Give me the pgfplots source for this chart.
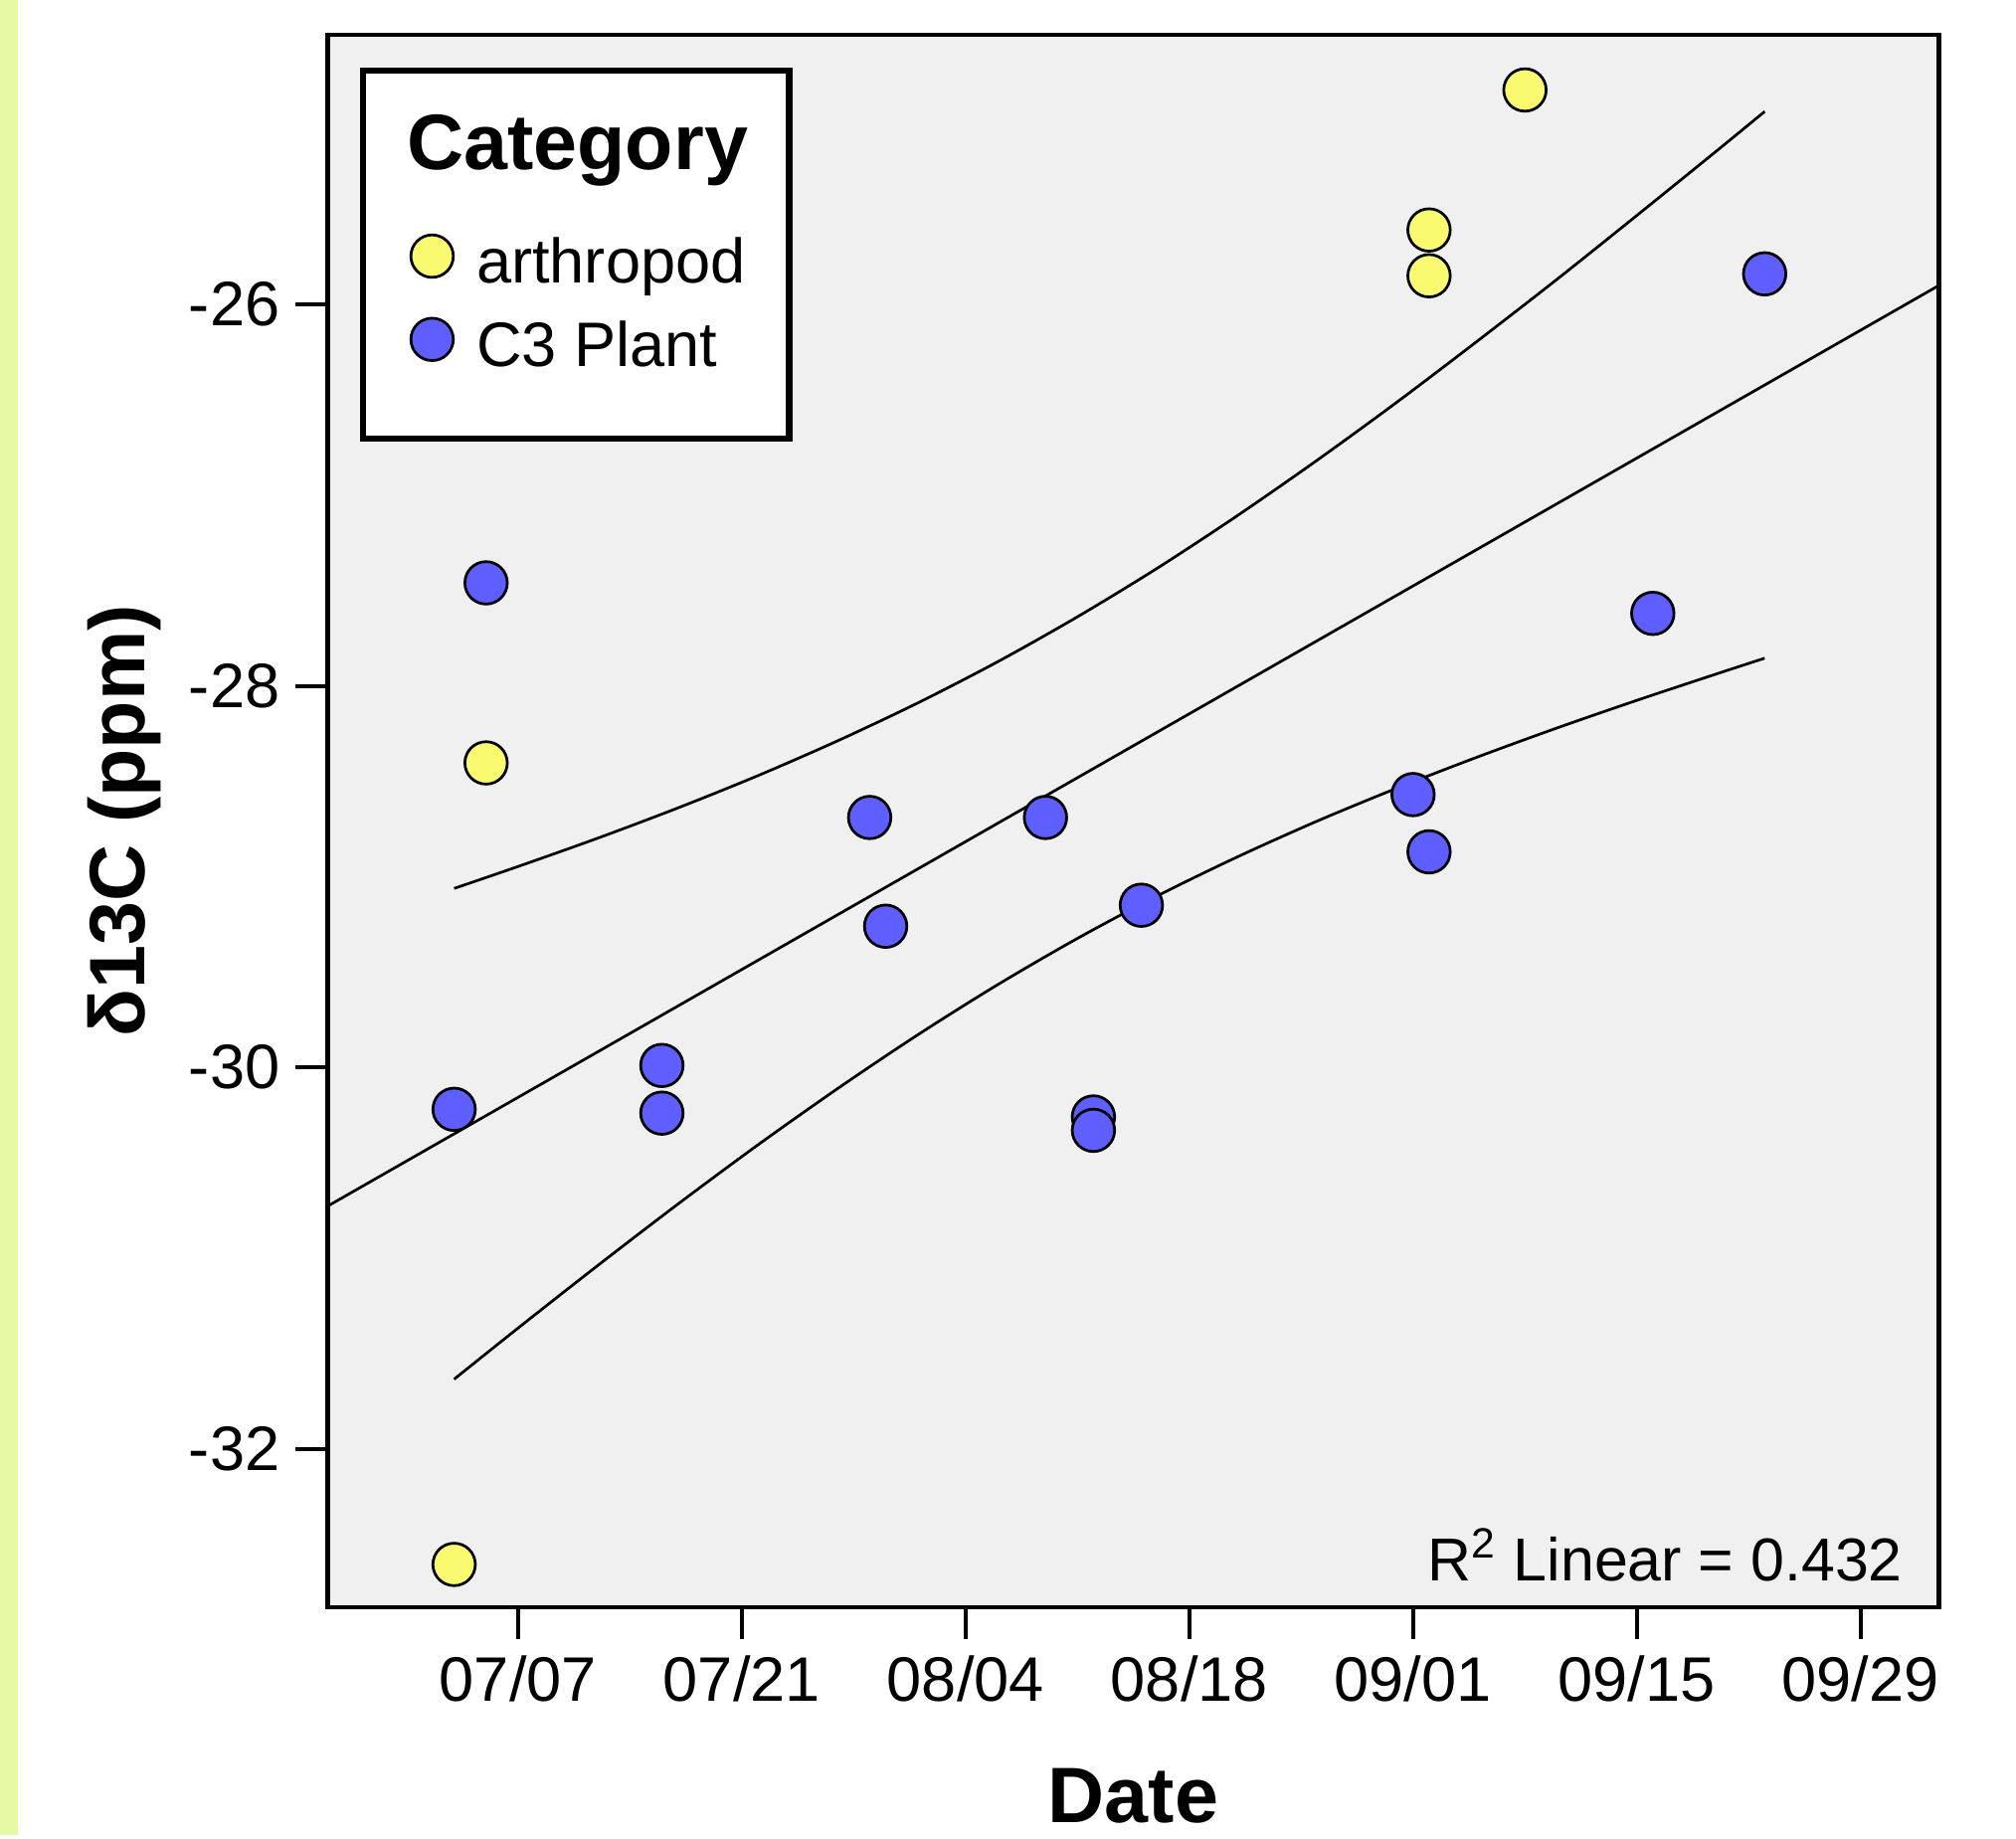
\documentclass[border=0pt]{standalone}
\usepackage{fontspec}
\setmainfont{Liberation Sans}
\usepackage{pgfplots}
\pgfplotsset{compat=1.18}

\definecolor{plotbg}{RGB}{240,240,240}
\definecolor{stripgreen}{RGB}{230,250,165}
\definecolor{arthyellow}{RGB}{250,250,112}
\definecolor{plantblue}{RGB}{95,95,255}

\begin{document}
\begin{tikzpicture}
% page background and the green strip on the left
\fill[white] (-2.55cm,-1.77cm) rectangle (13.13cm,12.50cm);
\fill[stripgreen] (-2.55cm,-1.77cm) rectangle (-2.41cm,12.50cm);
\begin{axis}[
    at={(0,0)}, anchor=south west,
    scale only axis, width=12.53cm, height=12.23cm,
    xmin=-11.9, xmax=88.9, ymin=-32.83, ymax=-24.586,
    axis background/.style={fill=plotbg},
    axis line style={line width=1pt, black},
    xtick={0,14,28,42,56,70,84},
    xticklabels={07/07,07/21,08/04,08/18,09/01,09/15,09/29},
    ytick={-32,-30,-28,-26},
    yticklabels={-32,-30,-28,-26},
    tick align=outside, xtick pos=bottom, ytick pos=left,
    major tick length=0.25cm,
    tick style={black, line width=0.9pt},
    ticklabel style={font=\fontsize{13.9}{16}\selectfont},
    xlabel={Date}, ylabel={δ13C (ppm)},
    label style={font=\bfseries\fontsize{17.4}{20}\selectfont},
    xlabel style={at={(axis description cs:0.5,-0.137)}, anchor=base},
    ylabel style={at={(axis description cs:-0.126,0.5)}, anchor=center},
    legend cell align=left,
    legend style={at={(0.02,0.979)}, anchor=north west, fill=white,
        draw=black, line width=1.4pt, inner xsep=0.25cm, inner ysep=0.27cm,
        row sep=0.1cm, font=\fontsize{13.9}{16}\selectfont},
    legend image code/.code={
        \path (-0.11cm,-0.22cm) (0.43cm,0.22cm);
        \draw[#1, line width=0.6pt] plot coordinates {(0.165cm,0.06cm)};},
]

% fit line and 95% band of the mean
\addplot[black, line width=0.6pt, forget plot] coordinates {(-11.9,-30.727) (88.9,-25.901)};
\addplot[black, line width=0.6pt, forget plot, smooth] coordinates {
    (-4,-29.062) (0,-28.947) (5,-28.798) (10,-28.640) (15,-28.471) (20,-28.288)
    (25,-28.090) (30,-27.874) (35,-27.638) (40,-27.383) (45,-27.108) (50,-26.817)
    (55,-26.512) (60,-26.194) (65,-25.869) (70,-25.534) (75,-25.195) (78,-24.989)};
\addplot[black, line width=0.6pt, forget plot, smooth] coordinates {
    (-4,-31.635) (0,-31.367) (5,-31.038) (10,-30.717) (15,-30.407) (20,-30.111)
    (25,-29.830) (30,-29.567) (35,-29.324) (40,-29.101) (45,-28.897) (50,-28.709)
    (55,-28.536) (60,-28.374) (65,-28.221) (70,-28.076) (75,-27.937) (78,-27.855)};

\addlegendimage{empty legend}
\addlegendentry[text depth=0.29cm]{\hspace*{-0.54cm}\bfseries\fontsize{17.4}{20}\selectfont Category}

\addplot[only marks, mark=*, mark size=0.165cm, draw=black, fill=arthyellow, line width=0.6pt]
    coordinates {(-4,-32.606) (-2,-28.404) (57,-25.61) (57,-25.85) (63,-24.876)};
\addlegendentry{arthropod}

\addplot[only marks, mark=*, mark size=0.165cm, draw=black, fill=plantblue, line width=0.6pt]
    coordinates {(-2,-27.46) (-4,-30.22) (9,-29.99) (9,-30.24) (22,-28.69) (23,-29.26)
    (33,-28.69) (39,-29.15) (36,-30.26) (36,-30.33) (56,-28.57) (57,-28.87)
    (71,-27.62) (78,-25.84)};
\addlegendentry{C3 Plant}

% spacer row under the last entry
\addlegendimage{empty legend}
\addlegendentry[inner sep=0pt, text depth=0.07cm]{\rule{0pt}{0pt}}

\node[anchor=base east, inner sep=0pt, font=\fontsize{13.4}{16}\selectfont] at (rel axis cs:0.978,0.0164)
    {R\textsuperscript{2} Linear = 0.432};
\end{axis}
\end{tikzpicture}
\end{document}
